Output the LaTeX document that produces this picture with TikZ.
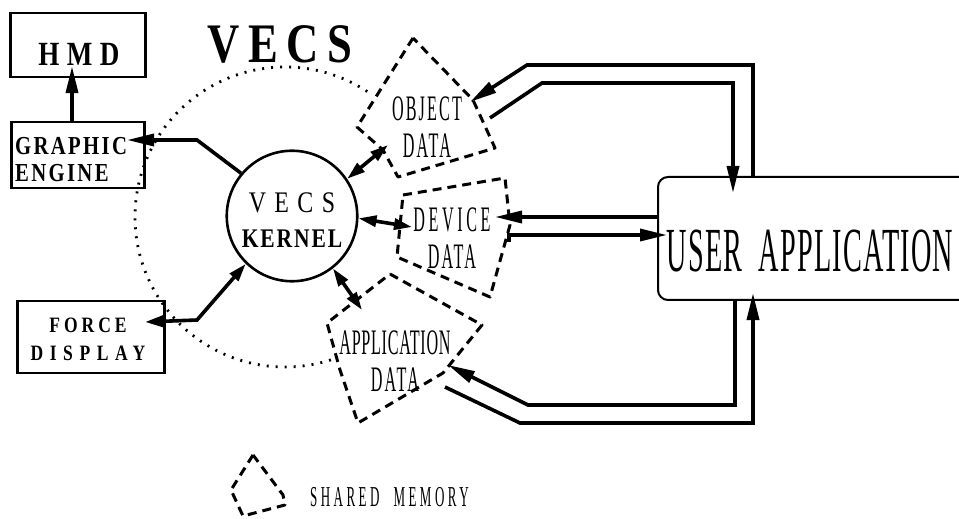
\documentclass[tikz,border=0pt]{standalone}
\usepackage{fontspec}
\setmainfont{Liberation Serif}
\newfontfamily\semifont[FakeStretch=0.8]{Liberation Serif}
\newfontfamily\thinfont[FakeStretch=0.45]{Liberation Serif}
\usetikzlibrary{arrows.meta}

\tikzset{
  box/.style={draw,line width=2.6bp,inner sep=0pt},
  arr/.style={line width=3.6bp,-{Triangle[length=27bp,width=12bp]}},
  dbl/.style={line width=3.6bp,{Triangle[length=18bp,width=11bp]}-{Triangle[length=18bp,width=11bp]}},
  memory/.style={draw,fill=white,line width=3bp,dash pattern=on 9bp off 6bp,line join=round},
  ring/.style={line width=2.8bp,dash pattern=on 2bp off 7bp},
  boldtext/.style={inner sep=0pt,font=\semifont\bfseries\fontsize{#1}{#1}\selectfont},
  memtext/.style={inner sep=0pt,align=center,font=\thinfont\fontsize{36}{37}\selectfont\addfontfeatures{LetterSpace=6}},
}

\begin{document}
\begin{tikzpicture}[x=1bp,y=-1bp]
\useasboundingbox (0,0) rectangle (959,519);
\begin{scope}
  \clip (285,217) -- (457,-29) -- (-10,-29) -- (-10,530) -- (378,502) -- cycle;
  \draw[ring] (285,217) circle[radius=150];
\end{scope}

\draw[memory] (413,38) -- (357,127) -- (383,150) -- (398,177) -- (495,148) -- (473,100) -- cycle;
\draw[memory] (403,195) -- (505,178) -- (510,225) -- (490,297) -- (397,257) -- cycle;
\draw[memory] (390,274) -- (482,325) -- (443,373) -- (358,423) -- (340,370) -- (327,323) -- cycle;
\draw[memory] (253,455) -- (231,490) -- (243,516) -- (285,505) -- (283,495) -- cycle;

\node[box,minimum width=135,minimum height=64] (hmd) at (78,45) {};
\node[box,minimum width=134,minimum height=66] (ge) at (78,155) {};
\node[box,minimum width=148,minimum height=72] (fd) at (91,337) {};
\node[draw,circle,line width=2.6bp,minimum size=131,inner sep=0pt] (kern) at (292,216) {};
\draw[line width=2bp,rounded corners=10bp] (965,177) -- (658,177) -- (658,300) -- (965,300);

\node[boldtext=34] (hmd-txt) at (79,54) {\addfontfeatures{LetterSpace=22}HMD};
\node[boldtext=56] (title) at (280,44) {\addfontfeatures{LetterSpace=15}VECS};
\node[boldtext=26,anchor=west,align=left] (ge-txt) at (15,160)
  {\addfontfeatures{LetterSpace=9}GRAPHIC\\[1bp]\addfontfeatures{LetterSpace=9}ENGINE};
\node[boldtext=22,align=center] (fd-txt) at (88,339)
  {\addfontfeatures{LetterSpace=18}FORCE\\[6bp]\addfontfeatures{LetterSpace=30}DISPLAY};
\node[inner sep=0pt,font=\semifont\fontsize{30}{30}\selectfont\addfontfeatures{LetterSpace=28}] (kern-v) at (292,203) {VECS};
\node[boldtext=27] (kern-k) at (292,239) {\addfontfeatures{LetterSpace=7}KERNEL};
\node[memtext] (obj) at (427,127) {OBJECT\\DATA};
\node[memtext] (dev) at (452,238) {\addfontfeatures{LetterSpace=10}DEVICE\\DATA};
\node[memtext] (app) at (395,361) {\addfontfeatures{LetterSpace=2}APPLICATION\\DATA};
\node[inner sep=0pt,font=\thinfont\fontsize{63}{63}\selectfont\addfontfeatures{LetterSpace=2}] (ua) at (810,251) {USER\hspace{16bp}APPLICATION};
\node[inner sep=0pt,anchor=west,font=\thinfont\fontsize{29}{29}\selectfont\addfontfeatures{LetterSpace=12}] (legend) at (310,497) {SHARED\hspace{14bp}MEMORY};

\coordinate (ge-in) at (127,140);
\coordinate (fd-in) at (145,322);
\coordinate (obj-k) at (388,145);
\coordinate (dev-k) at (412,227);
\coordinate (app-k) at (362,310);
\coordinate (obj-in) at (470,102);
\coordinate (obj-out) at (490,118);
\coordinate (dev-in) at (495,217);
\coordinate (dev-out) at (509,242);
\coordinate (app-in) at (448,365);
\coordinate (app-out) at (445,387);
\coordinate (ua-t1) at (753,177);
\coordinate (ua-t2) at (733,193);
\coordinate (ua-l1) at (658,217);
\coordinate (ua-l2) at (667,235);
\coordinate (ua-b1) at (735,300);
\coordinate (ua-b2) at (753,293);

\draw[arr] ([xshift=-6bp]ge.north) -- ([xshift=-6bp,yshift=12bp]hmd.south);
\draw[arr] (kern.140) -- (197,140) -- (ge-in);
\draw[dbl] (kern.-134) -- (197,320) -- (fd-in);
\foreach \a/\t in {34/obj-k,-2/dev-k,-52/app-k}
  \draw[dbl] (kern.\a) -- (\t);

\draw[arr] (ua-t1) |- (527,65) -- (obj-in);
\draw[arr] (obj-out) -- (542,83) -| (ua-t2);
\draw[arr] (ua-l1) -- (dev-in);
\draw[arr] (dev-out) |- (ua-l2);
\draw[arr] (ua-b1) |- (528,405) -- (app-in);
\draw[arr] (app-out) -- (520,423) -| (ua-b2);
\end{tikzpicture}
\end{document}
